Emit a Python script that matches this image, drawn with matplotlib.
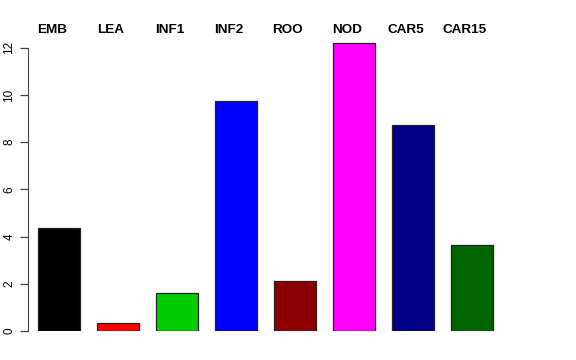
import matplotlib
matplotlib.use("Agg")
from matplotlib import pyplot as plt
from matplotlib import transforms

tissues = ['EMB', 'LEA', 'INF1', 'INF2', 'ROO', 'NOD', 'CAR5', 'CAR15']
values = [4.36, 0.33, 1.6, 9.76, 2.12, 12.22, 8.73, 3.64]
colors = ['black', 'red', '#00CD00', 'blue', '#8B0000', 'magenta', '#00008B', '#006400']
yticks = [0, 2, 4, 6, 8, 10, 12]

plt.rcParams['font.family'] = ['Liberation Sans', 'DejaVu Sans']

fig = plt.figure(figsize=(5.76, 3.6), dpi=100)
ax = fig.add_axes([28 / 576, 29 / 360, 520 / 576, 292.6 / 360])

pos = [i * 1.4 for i in range(len(tissues))]
ax.bar(pos, values, width=1.0, color=colors, edgecolor='#222222', linewidth=0.9)

ax.set_xlim(-0.736, 11.6)
ax.set_ylim(0, 12.4)

for s in ['top', 'right', 'bottom']:
    ax.spines[s].set_visible(False)
ax.spines['left'].set_bounds(0, 12)
ax.spines['left'].set_color('#444444')
ax.set_xticks([])
ax.set_yticks(yticks)
ax.set_yticklabels([str(t) for t in yticks], rotation=90, va='center', fontsize=8.5)
ax.tick_params(axis='y', length=6, width=0.9, color='#444444', pad=3)

# labels above the plot, slightly shifted left of the bar centres
trans = transforms.blended_transform_factory(ax.transData, fig.transFigure)
for p, name in zip(pos, tissues):
    ax.text(p - 0.17, 1 - 30 / 360, name, transform=trans, ha='center', va='center',
            fontsize=9.7, fontweight='bold')

fig.savefig('out.png', dpi=100)
